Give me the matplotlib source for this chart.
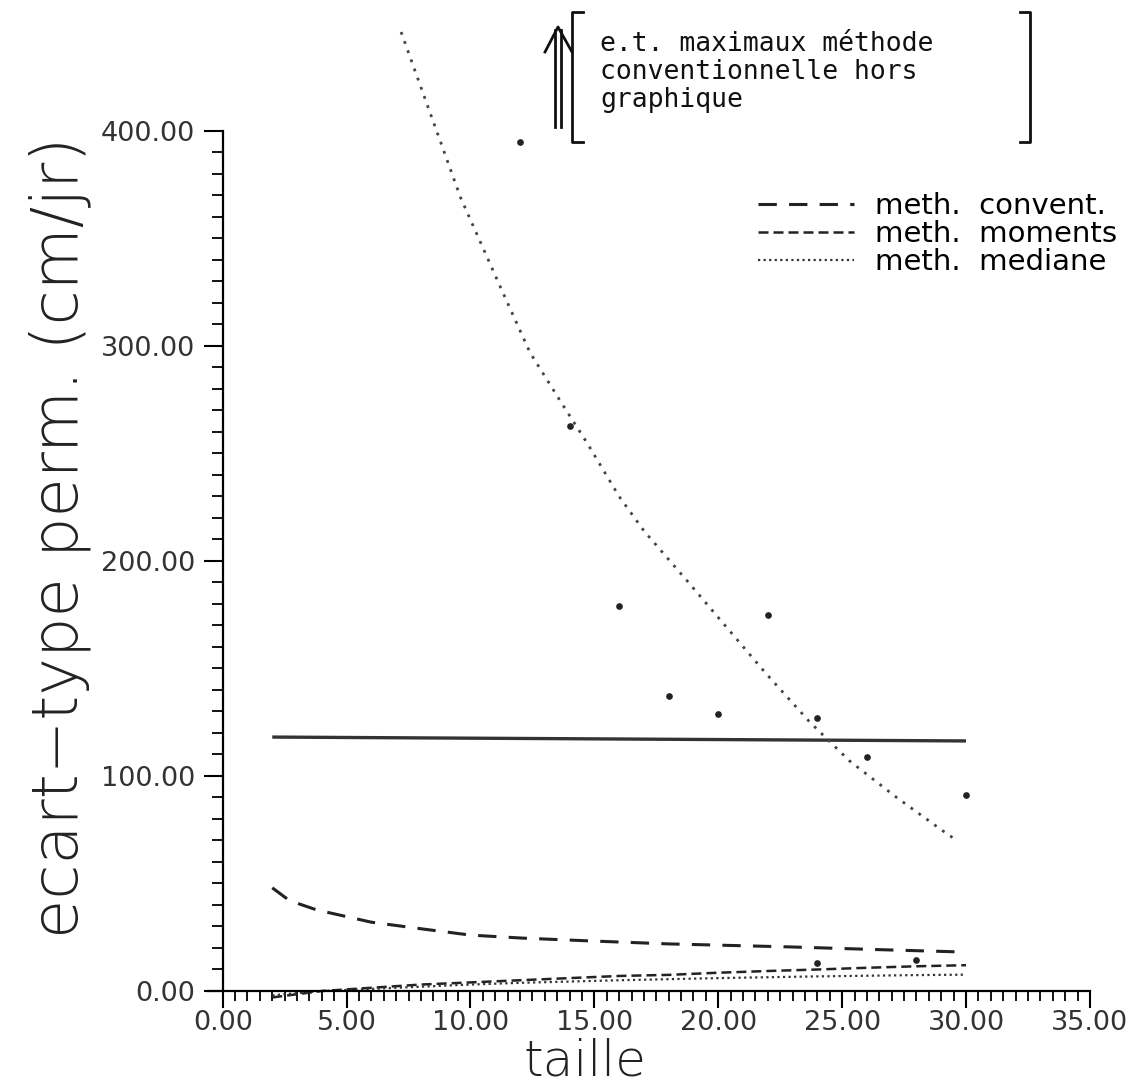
import matplotlib
matplotlib.use("Agg")
import matplotlib.pyplot as plt
from matplotlib.lines import Line2D
from matplotlib.ticker import FormatStrFormatter

# taille (x) and ecart-type values
taille_solid = [2, 30]
et_solid = [118.1, 116.3]

taille_pts = [12, 14, 16, 18, 20, 22, 24, 26, 30, 24, 28]
et_pts = [395, 263, 179, 137, 129, 175, 127, 109, 91, 13, 14.5]

taille_max = [7.2, 9.6, 11.3, 12.4, 13.7, 14.7, 16.0, 17.0, 18.8, 20.2,
              21.9, 23.7, 25.3, 27.2, 29.0, 29.5]
et_max = [446, 369, 325, 297, 273, 255, 230, 214, 190, 171,
          148, 125, 107, 90, 75, 71]

taille_conv = [2.0, 2.7, 3.8, 6.0, 8.1, 10.0, 12.1, 14.8, 18.0, 22.9, 26.9, 30.0]
et_conv = [48, 42, 37.7, 32, 28.8, 26, 24.6, 23.3, 21.9, 20.5, 19.1, 18.1]

taille_low = [2, 4, 6, 8, 10, 12, 14, 16, 18, 20, 22, 24, 26, 28, 30]
et_moments = [-3, 0, 1.5, 3, 4, 5, 6, 7, 7.5, 8.5, 9.3, 10, 10.8, 11.5, 12]
et_mediane = [-2, 0, 1, 2, 3, 3.8, 4.4, 5, 5.5, 6, 6.4, 6.8, 7.1, 7.4, 7.6]

legend_labels = ["meth.  convent.", "meth.  moments", "meth.  mediane"]
note = "e.t. maximaux méthode\nconventionnelle hors\ngraphique"

W, H = 1138, 1090


def fx(px):
    return px / W


def fy(py):
    return 1 - py / H


fig = plt.figure(figsize=(W / 100, H / 100), dpi=100)
ax = fig.add_axes([fx(222.7), 99 / H, 892 / W, 991 / H])
ax.set_xlim(0, 36)
ax.set_ylim(0, 460.9)

ax.plot(taille_solid, et_solid, color="#333333", lw=2.4, solid_capstyle="butt")
ax.plot(taille_max, et_max, color="#444444", lw=2.0, linestyle=(0, (1, 2.5)))
ax.plot(taille_pts, et_pts, "o", color="#222222", markersize=3.8, linestyle="none")
l_conv, = ax.plot(taille_conv, et_conv, color="#222222", lw=2.2, linestyle=(0, (6, 4)))
l_mom, = ax.plot(taille_low, et_moments, color="#222222", lw=1.8,
                 linestyle=(0, (4, 2)), clip_on=False)
l_med, = ax.plot(taille_low, et_mediane, color="#333333", lw=1.6,
                 linestyle=(0, (1, 1.5)), clip_on=False)

for s in ["top", "right"]:
    ax.spines[s].set_visible(False)
ax.spines["left"].set_bounds(0, 400)
ax.spines["bottom"].set_bounds(-0.6, 35)
ax.spines["left"].set_linewidth(1.6)
ax.spines["bottom"].set_linewidth(1.6)

ax.set_xticks([0, 5, 10, 15, 20, 25, 30, 35])
ax.set_yticks([0, 100, 200, 300, 400])
ax.set_yticks(range(0, 401, 10), minor=True)
ax.set_xticks([v / 2 for v in range(0, 71)], minor=True)
ax.xaxis.set_major_formatter(FormatStrFormatter("%.2f"))
ax.yaxis.set_major_formatter(FormatStrFormatter("%.2f"))
ax.tick_params(axis="x", which="major", length=12, width=1.5, pad=2,
               labelsize=19.5, labelcolor="#333333")
ax.tick_params(axis="x", which="minor", length=7, width=1.3)
ax.tick_params(axis="y", which="major", length=14, width=1.5, pad=6,
               labelsize=19.5, labelcolor="#333333")
ax.tick_params(axis="y", which="minor", length=8, width=1.3)

fig.text(fx(60), fy(537), "ecart−type perm. (cm/jr)", rotation=90,
         fontsize=46, fontweight="light", ha="center", va="center",
         color="#222222")
fig.text(fx(585), fy(1076), "taille", fontsize=36, fontweight="light",
         ha="center", va="baseline", color="#222222")

ax.legend([l_conv, l_mom, l_med], legend_labels, loc="upper left",
          bbox_to_anchor=(fx(758), fy(192)), bbox_transform=fig.transFigure,
          frameon=False, fontsize=21, handlelength=3.3, handletextpad=0.7,
          labelspacing=0.0, borderpad=0, borderaxespad=0)

# note box with arrow and brackets
fig.text(fx(600), fy(72), note, family="DejaVu Sans Mono", fontsize=19,
         ha="left", va="center", linespacing=1.1, color="#111111")
line_kw = dict(color="#111111", lw=2, transform=fig.transFigure)
fig.add_artist(Line2D([fx(555), fx(555)], [fy(30), fy(127)], **line_kw))
fig.add_artist(Line2D([fx(561), fx(561)], [fy(30), fy(127)], **line_kw))
fig.add_artist(Line2D([fx(545), fx(558), fx(572)], [fy(52), fy(27), fy(52)], **line_kw))
fig.add_artist(Line2D([fx(583), fx(572), fx(572), fx(583)],
                      [fy(12), fy(12), fy(142), fy(142)], **line_kw))
fig.add_artist(Line2D([fx(1020), fx(1030), fx(1030), fx(1020)],
                      [fy(12), fy(12), fy(142), fy(142)], **line_kw))

fig.savefig("out.png", dpi=100)
